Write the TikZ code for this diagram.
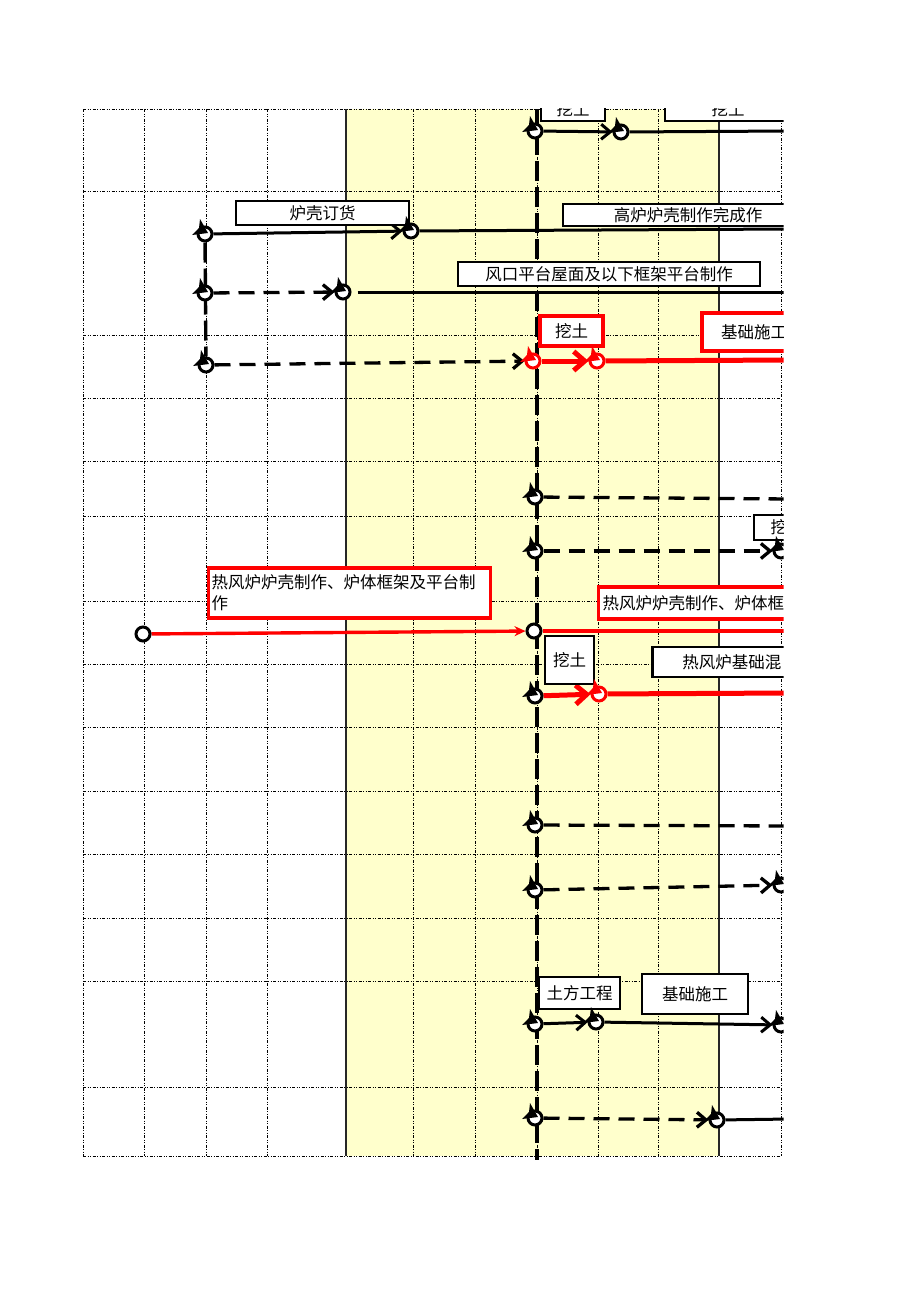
\documentclass[tikz,border=0pt]{standalone}
\usepackage{fontspec}
\newfontfamily\cjk{Noto Sans CJK SC}
\usetikzlibrary{arrows.meta,calc}
\pgfdeclarelayer{bg}
\pgfdeclarelayer{conn}
\pgfsetlayers{bg,conn,main}
\newcommand\evtip[2]{\fill[#2] ($(#1)+(-5,-15)$) -- ($(#1)+(3,-1)$) -- ($(#1)+(-13,1)$) -- ($(#1)+(-6,-6)$) -- cycle;}
\newcommand\myclip{\clip (0,108) rectangle (783.5,1301);}
\begin{document}
\begin{tikzpicture}[x=1pt,y=-1pt,
  ev/.style={circle,draw=black,line width=3pt,fill=white,inner sep=0pt,minimum size=14pt},
  evr/.style={ev,draw=red},
  bx/.style={draw=black,line width=2.7pt,fill=white,inner sep=2pt,font=\cjk\fontsize{16.5}{21}\selectfont},
  rbx/.style={bx,draw=red,line width=3.2pt},
  gridl/.style={line width=1pt,dash pattern=on 3pt off 1.5pt on 1pt off 1.5pt on 1pt off 1.5pt},
  sepl/.style={line width=1.2pt,black!85},
  sol/.style={line width=3pt},
  dsh/.style={line width=3.3pt,dash pattern=on 16pt off 9pt},
  vdsh/.style={line width=3.4pt,dash pattern=on 20pt off 6pt},
  rthick/.style={line width=5pt,red},
  rthin/.style={line width=3.4pt,red},
  arr/.style={-{Straight Barb[length=9pt,width=15pt]}},
  rarr/.style={-{Straight Barb[length=11pt,width=19pt]}},
]
\useasboundingbox (0,0) rectangle (920,1301);

% ---------- background: yellow band and grid ----------
\begin{pgfonlayer}{bg}
\fill[fill={rgb,255:red,255;green,255;blue,204}] (346,109) rectangle (719,1156);
\foreach \y in {109,191,335,398,461,516,601,664,727,791,854,918,981,1087,1156}
  \draw[gridl] (83,\y) -- (781,\y);
\foreach \x in {83,144,206,267,413,475,537,598,658,781}
  \draw[gridl] (\x,109) -- (\x,1156);
\draw[sepl] (346,109) -- (346,1156);
\draw[sepl] (719,109) -- (719,1156);
\end{pgfonlayer}

% ---------- nodes ----------
\begin{scope}
\myclip
% text boxes
\node[bx,minimum width=64,minimum height=24] (b1) at (573,109) {挖土};
\node[bx,minimum width=126,minimum height=24] (b2) at (728,109) {挖土};
\node[bx,minimum width=173,minimum height=24] (b3) at (322.5,213) {炉壳订货};
\node[bx,minimum width=250,minimum height=22] (b4) at (688,215) {高炉炉壳制作完成作};
\node[bx,minimum width=302,minimum height=24] (b5) at (609,274) {风口平台屋面及以下框架平台制作};
\node[rbx,minimum width=63,minimum height=30] (b6) at (571.5,331) {挖土};
\node[rbx,minimum width=104,minimum height=38] (b7) at (754,332) {基础施工};
\node[bx,minimum width=66,minimum height=25] (b8) at (787,527.5) {挖土};
\node[rbx,anchor=west,minimum height=50,text width=276,inner xsep=3pt,align=left] (b9) at (207,593) {热风炉炉壳制作、炉体框架及平台制\\作};
\node[rbx,anchor=west,minimum height=32,text width=300,inner xsep=4pt,align=left] (b10) at (597,603) {热风炉炉壳制作、炉体框架及平台制作};
\node[bx,minimum width=49,minimum height=48] (b11) at (569.5,660) {挖土};
\node[bx,anchor=west,minimum height=30,text width=200,inner xsep=30pt,align=left] (b12) at (651,662) {热风炉基础混};
\node[bx,minimum width=81,minimum height=32] (b13) at (579.5,993) {土方工程};
\node[bx,minimum width=106,minimum height=40] (b14) at (695,994) {基础施工};

% event circles
\node[ev] (e1a) at (535,131) {};
\node[ev] (e1b) at (621,132) {};
\node[ev] (e2a) at (205,234) {};
\node[ev] (e2b) at (411,231) {};
\node[ev] (e3a) at (205,293) {};
\node[ev] (e3b) at (343,292) {};
\node[ev] (e4a) at (206,365) {};
\node[evr] (e4b) at (533,361) {};
\node[evr] (e4c) at (597,361) {};
\node[ev] (e5) at (535,497) {};
\node[ev] (e6a) at (535,551) {};
\node[ev] (e6b) at (781,551) {};
\node[ev] (e7a) at (143,634) {};
\node[ev] (e7b) at (534,631) {};
\node[ev] (e8a) at (535,696) {};
\node[evr] (e8b) at (599,694) {};
\node[ev] (e9) at (535,825) {};
\node[ev] (e10a) at (535,890) {};
\node[ev] (e10b) at (781,885) {};
\node[ev] (e11a) at (535,1024) {};
\node[ev] (e11b) at (596,1022) {};
\node[ev] (e11c) at (781,1025) {};
\node[ev] (e12a) at (535,1118) {};
\node[ev] (e12b) at (717,1120) {};

% free ends and vertical line ends
\coordinate (r1) at (790,131);
\coordinate (r2) at (790,229);
\coordinate (r3) at (790,292);
\coordinate (r4) at (790,360);
\coordinate (r5) at (790,499);
\coordinate (r7) at (790,631);
\coordinate (r8) at (790,693);
\coordinate (r9) at (790,826);
\coordinate (r12) at (790,1119);
\coordinate (vt) at (537,109);
\coordinate (vb) at (537,1160);

% arrowhead marks on the events
\foreach \n in {e1a,e1b,e2a,e2b,e3a,e3b,e4a,e5,e6a,e6b,e8a,e9,e10a,e10b,e11a,e11b,e11c,e12a,e12b}
  {\evtip{\n}{black}}
\evtip{e4b}{red}
\evtip{e4c}{red}
\evtip{e8b}{red}
\end{scope}

% ---------- connectors ----------
\begin{pgfonlayer}{conn}
\begin{scope}
\myclip
\draw[vdsh] (vt) -- (vb);
\draw[vdsh] (e2a) -- (e4a);
% row 1
\draw[sol,arr] (e1a) -- (e1b);
\draw[sol] (e1b) -- (r1);
% row 2
\draw[sol,arr] (e2a) -- (e2b);
\draw[sol] (e2b) -- (r2);
% row 3
\draw[dsh,arr] (e3a) -- (e3b);
\draw[sol,shorten <=6pt] (e3b) -- (r3);
% row 4
\draw[dsh,arr] (e4a) -- (e4b);
\draw[rthick,rarr] (e4b) -- (e4c);
\draw[rthick] (e4c) -- (r4);
% row 5
\draw[dsh] (e5) -- (r5);
% row 6
\draw[dsh,arr] (e6a) -- (e6b);
% row 7
\draw[rthin,-{Stealth[length=11pt,width=10pt]}] (e7a) -- (e7b);
\draw[rthin] (e7b) -- (r7);
% row 8
\draw[rthick,rarr] (e8a) -- (e8b);
\draw[rthick] (e8b) -- (r8);
% row 9
\draw[dsh] (e9) -- (r9);
% row 10
\draw[dsh,arr] (e10a) -- (e10b);
% row 11
\draw[sol,arr] (e11a) -- (e11b);
\draw[sol,arr] (e11b) -- (e11c);
% row 12
\draw[dsh,arr] (e12a) -- (e12b);
\draw[sol] (e12b) -- (r12);
\end{scope}
\end{pgfonlayer}
\end{tikzpicture}
\end{document}
